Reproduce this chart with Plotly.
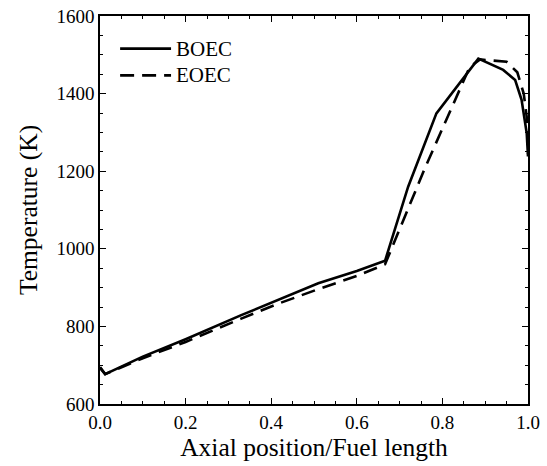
import plotly.graph_objects as go

# Data
boec_x = [0.0, 0.012, 0.10, 0.20, 0.33, 0.42, 0.51, 0.60, 0.666, 0.72, 0.786, 0.884, 0.942, 0.970, 0.985, 0.997, 1.0]
boec_y = [695, 677, 722, 767, 829, 871, 911, 943, 969, 1160, 1349, 1490, 1461, 1435, 1384, 1298, 1238]

eoec_x = [0.0, 0.012, 0.10, 0.20, 0.33, 0.42, 0.51, 0.60, 0.666, 0.76, 0.864, 0.888, 0.950, 0.975, 0.990, 0.997, 1.0]
eoec_y = [693, 677, 718, 760, 820, 860, 896, 930, 960, 1210, 1469, 1488, 1482, 1455, 1400, 1340, 1245]

series_names = ["BOEC", "EOEC"]

x_ticks = [0.0, 0.2, 0.4, 0.6, 0.8, 1.0]
x_ticklabels = ["0.0", "0.2", "0.4", "0.6", "0.8", "1.0"]
y_ticks = [600, 800, 1000, 1200, 1400, 1600]

FONT = "Liberation Serif"

fig = go.Figure()
fig.add_trace(go.Scatter(x=boec_x, y=boec_y, mode="lines", name=series_names[0],
                         line=dict(color="black", width=2.6), showlegend=False))
fig.add_trace(go.Scatter(x=eoec_x, y=eoec_y, mode="lines", name=series_names[1],
                         line=dict(color="black", width=2.6, dash="14px,8px"), showlegend=False))

# Custom legend (longer line samples like the reference)
leg_rows = [(0.916, "solid", series_names[0]), (0.847, "14px,8px", series_names[1])]
for yy, dash, name in leg_rows:
    fig.add_shape(type="line", xref="paper", yref="paper", x0=0.047, x1=0.166, y0=yy, y1=yy,
                  line=dict(color="black", width=2.6, dash=dash))
    fig.add_annotation(xref="paper", yref="paper", x=0.172, y=yy, text=name, showarrow=False,
                       xanchor="left", yanchor="middle", font=dict(family=FONT, size=21, color="black"))

axis_common = dict(
    showline=True, linecolor="black", linewidth=1.5, mirror="ticks",
    ticks="inside", ticklen=6, tickwidth=1.3, tickcolor="black",
    showgrid=False, zeroline=False,
    tickfont=dict(family=FONT, size=19, color="black"),
)

fig.update_xaxes(
    range=[0, 1], tickvals=x_ticks, ticktext=x_ticklabels,
    minor=dict(ticks="inside", ticklen=3.5, dtick=0.05, tickwidth=1.2, tickcolor="black"),
    title=dict(text="Axial position/Fuel length", font=dict(family=FONT, size=25.5, color="black"), standoff=6),
    **axis_common,
)
fig.update_yaxes(
    range=[600, 1600], tickvals=y_ticks,
    minor=dict(ticks="inside", ticklen=3.5, dtick=50, tickwidth=1.2, tickcolor="black"),
    title=dict(text="Temperature (K)", font=dict(family=FONT, size=25.5, color="black"), standoff=12),
    **axis_common,
)

fig.update_layout(
    width=547, height=466,
    margin=dict(l=100, r=19, t=16, b=62, autoexpand=False),
    plot_bgcolor="white", paper_bgcolor="white",
    font=dict(family=FONT, color="black"),
)

fig.write_html("out.html", config={"displayModeBar": False},
               post_script="document.body.style.margin='0';")
